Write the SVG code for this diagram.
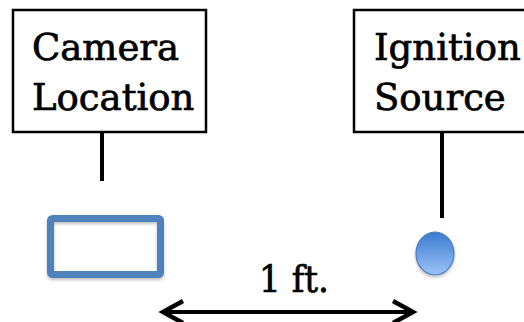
<svg xmlns="http://www.w3.org/2000/svg" width="524" height="322" viewBox="0 0 524 322">
<style>
.lbl{fill:#fff;stroke:#000;stroke-width:2.5}
.t{font-family:"DejaVu Serif","Liberation Serif",serif;font-size:37px;fill:#000;stroke:#000;stroke-width:0.7}
.lead{stroke:#000;stroke-width:4;fill:none}
</style>
<defs>
<linearGradient id="g" x1="0" y1="0" x2="0" y2="1">
<stop offset="0" stop-color="#3a7bd0"/>
<stop offset="1" stop-color="#9cc2f7"/>
</linearGradient>
<filter id="sh" x="-20%" y="-20%" width="140%" height="150%">
<feDropShadow dx="0" dy="2" stdDeviation="1.5" flood-color="#000" flood-opacity="0.25"/>
</filter>
</defs>
<g id="camera-label">
<rect class="lbl" x="13" y="10" width="193" height="122"/>
<text class="t" x="32" y="60">Camera</text>
<text class="t" x="32" y="110">Location</text>
</g>
<g id="ignition-label">
<rect class="lbl" x="354" y="10" width="180" height="122"/>
<text class="t" x="374" y="60">Ignition</text>
<text class="t" x="374" y="110">Source</text>
</g>
<g id="camera">
<rect x="50.5" y="218.5" width="110" height="56" rx="2" fill="none" stroke="#4f81bd" stroke-width="7" filter="url(#sh)"/>
</g>
<g id="ignition">
<ellipse cx="435" cy="253.5" rx="19" ry="21.5" fill="url(#g)" stroke="#4a7ebb" stroke-width="1.2" filter="url(#sh)"/>
</g>
<g id="connectors">
<line class="lead" x1="102" y1="132" x2="102" y2="181"/>
<line class="lead" x1="442" y1="132" x2="442" y2="218"/>
<line x1="163" y1="312" x2="413" y2="312" stroke="#000" stroke-width="4"/>
<polyline points="183,301 163,312 183,323" fill="none" stroke="#000" stroke-width="4.5" stroke-linejoin="miter"/>
<polyline points="393,301 413,312 393,323" fill="none" stroke="#000" stroke-width="4.5" stroke-linejoin="miter"/>
<text class="t" x="294" y="292" text-anchor="middle" textLength="70" lengthAdjust="spacingAndGlyphs">1 ft.</text>
</g>
</svg>
